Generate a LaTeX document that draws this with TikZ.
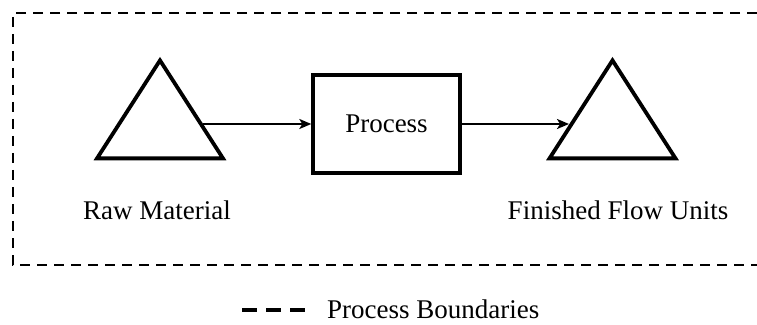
\documentclass[tikz,border=0pt]{standalone}
\usepackage{fontspec}
\setmainfont{Liberation Serif}
\usetikzlibrary{arrows.meta,positioning,shapes.geometric}

\begin{document}
\begin{tikzpicture}[x=1pt,y=1pt,font=\fontsize{27}{30}\selectfont,>=Stealth]
\tikzset{
  stock/.style={draw,line width=3.8pt,isosceles triangle,isosceles triangle stretches,shape border rotate=90,minimum width=126pt,minimum height=98pt,inner sep=0pt,line join=miter},
  procbox/.style={draw,line width=3.4pt,minimum width=147pt,minimum height=98pt,inner sep=0pt},
  flow/.style={line width=2pt,-{Stealth[length=12pt,width=10pt,inset=3pt]}},
  boundary/.style={line width=2.8pt,dash pattern=on 10pt off 7pt},
  caption/.style={inner sep=0pt}
}
\useasboundingbox (0,0) rectangle (757,324);
\draw[boundary] (757,311) -- (13,311) -- (13,59) -- (757,59);

\node[stock] (raw) at (160,200) {};
\node[procbox] (proc) at (386.5,200) {Process};
\node[stock] (fin) at (612.5,200) {};
\draw[flow] (raw) -- (proc);
\draw[flow] (proc) -- (fin);

\node[caption] (rawlab) at (157,114) {Raw Material};
\node[caption] (finlab) at (618,114) {Finished Flow Units};

\coordinate (legs) at (242,14);
\coordinate (lege) at (305,14);
\draw[line width=3.6pt,dash pattern=on 15pt off 9pt] (legs) -- (lege);
\node[caption,anchor=base west] (legtext) at (327,6) {Process Boundaries};
\end{tikzpicture}
\end{document}
